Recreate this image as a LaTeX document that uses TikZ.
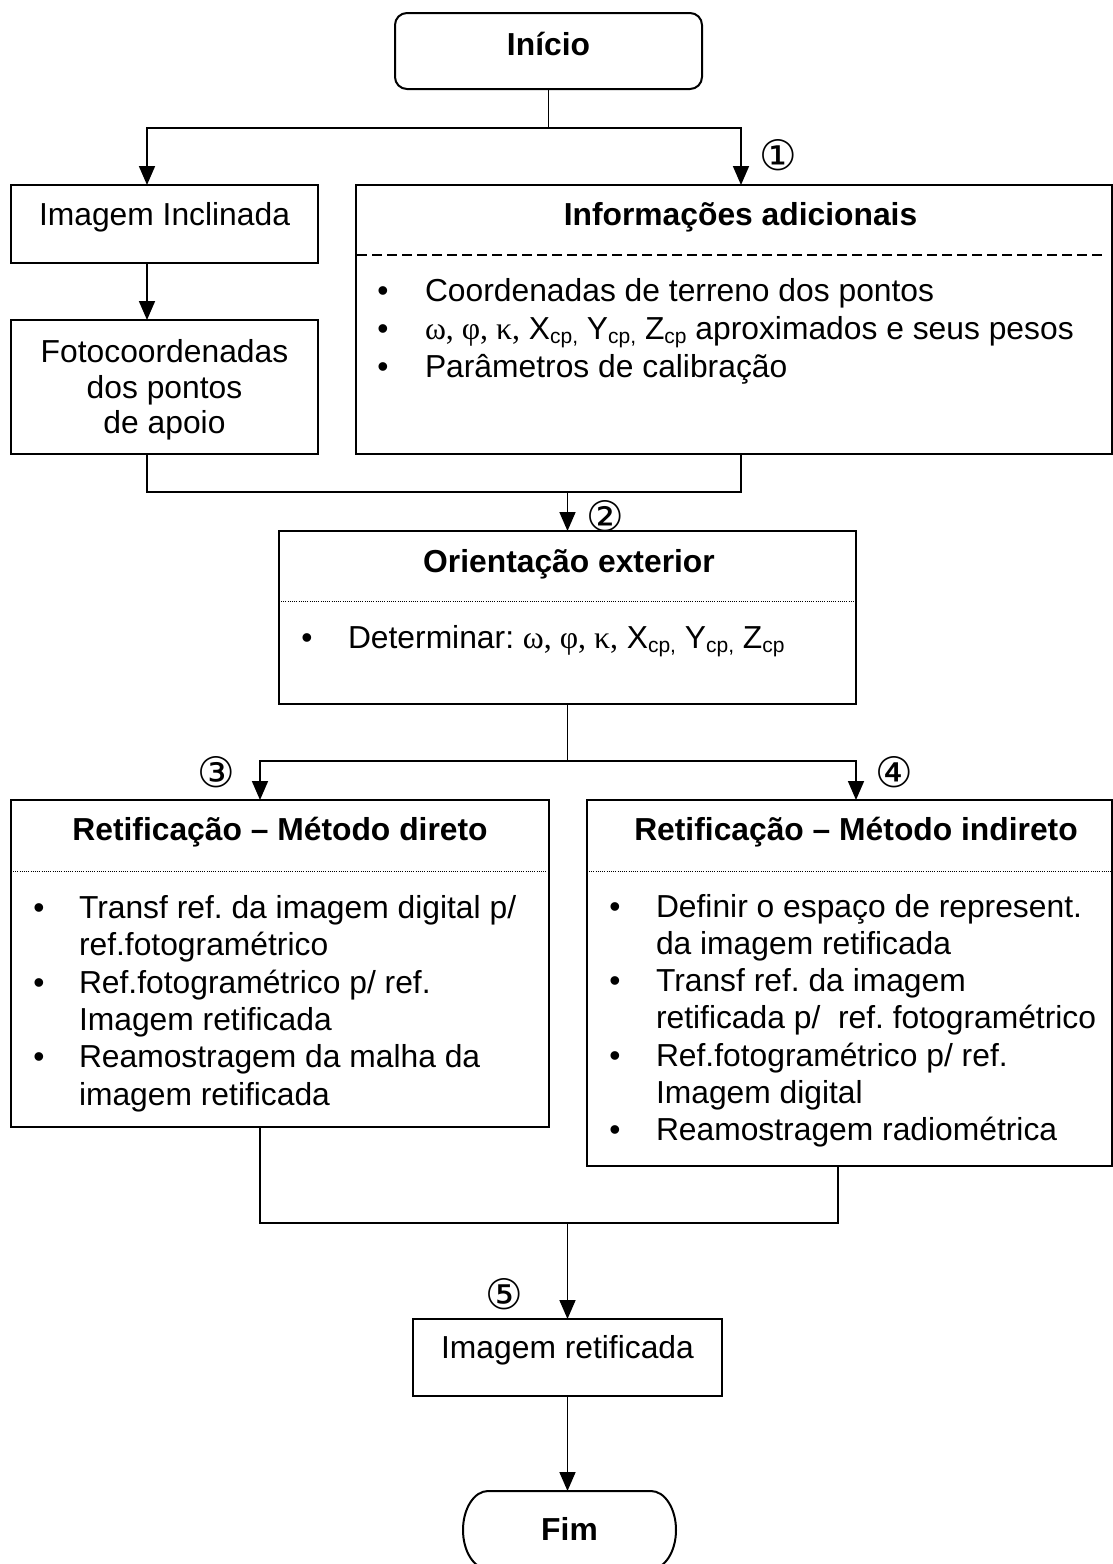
\documentclass[tikz,border=0pt]{standalone}
\usepackage{fontspec}
\setmainfont{Liberation Sans}
\newfontfamily\grkfont{Liberation Serif}
\newfontfamily\circfont{DejaVu Sans}
\usetikzlibrary{arrows.meta}
\newcommand\sbx[1]{\raisebox{-4.5pt}{\fontsize{21pt}{21pt}\selectfont #1}}
\newcommand\gk[1]{{\grkfont #1}}
\frenchspacing
\tikzset{
  txt/.style={font=\fontsize{31.8pt}{37.3pt}\selectfont, inner sep=0pt, outer sep=0pt},
  ttl/.style={txt, font=\fontsize{31.8pt}{37.3pt}\selectfont\bfseries, anchor=base},
  line/.style={txt, anchor=base west},
  bul/.style={txt, anchor=base},
  num/.style={inner sep=0pt, font=\circfont\fontsize{42pt}{42pt}\selectfont},
  box/.style={draw, line width=2pt, anchor=north west, inner sep=0pt, outer sep=0pt},
  conn/.style={line width=1.7pt},
  arr/.style={conn, -{Triangle[length=19pt,width=16pt]}},
  dotline/.style={line width=0.9pt, dash pattern=on 0.9pt off 1.3pt},
  dashline/.style={line width=1.6pt, dash pattern=on 10pt off 5pt}
}
\begin{document}
\begin{tikzpicture}[x=1pt,y=-1pt]
\path[use as bounding box, fill=white] (0,0) rectangle (1113,1564);
\clip (0,0) rectangle (1113,1564);

% boxes
\node[box, rounded corners=12pt, minimum width=307pt, minimum height=76pt] (inicio) at (395,13) {};
\node[box, minimum width=307pt, minimum height=78pt] (imginc) at (11,185) {};
\node[box, minimum width=307pt, minimum height=134pt] (foto) at (11,320) {};
\node[box, minimum width=756pt, minimum height=269pt] (info) at (356,185) {};
\node[box, minimum width=577pt, minimum height=173pt] (orient) at (279,531) {};
\node[box, minimum width=538pt, minimum height=327pt] (retdir) at (11,800) {};
\node[box, minimum width=525pt, minimum height=366pt] (retind) at (587,800) {};
\node[box, minimum width=309pt, minimum height=77pt] (imgret) at (413,1319) {};
\draw[line width=2pt] (488,1491) -- (651,1491)
  .. controls (664.8,1491) and (676,1508.5) .. (676,1530)
  .. controls (676,1551.5) and (664.8,1569) .. (651,1569)
  -- (488,1569)
  .. controls (474.2,1569) and (463,1551.5) .. (463,1530)
  .. controls (463,1508.5) and (474.2,1491) .. (488,1491) -- cycle;

% titles and texts
\node[ttl] (tinicio) at (548.5,55) {Início};
\node[txt, anchor=base] (timginc) at (164.5,225) {Imagem Inclinada};
\node[txt, anchor=base] (tfoto1) at (164.5,362) {Fotocoordenadas};
\node[txt, anchor=base] (tfoto2) at (164.5,398) {dos pontos};
\node[txt, anchor=base] (tfoto3) at (164.5,433) {de apoio};

\node[ttl] (tinfo) at (740.5,225) {Informações adicionais};
\draw[dashline] (357,255) -- (1106,255);
\node[bul] (bi1) at (383,301) {•};
\node[bul] (bi2) at (383,339) {•};
\node[bul] (bi3) at (383,377) {•};
\node[line] (li1) at (425,301) {Coordenadas de terreno dos pontos};
\node[line] (li2) at (425,339) {\gk{ω, φ, κ,} X\sbx{cp,} Y\sbx{cp,} Z\sbx{cp} aproximados e seus pesos};
\node[line] (li3) at (425,377) {Parâmetros de calibração};

\node[ttl] (torient) at (569,572) {Orientação exterior};
\draw[dotline] (281,601) -- (854,601);
\node[bul] (bo1) at (307,648) {•};
\node[line] (lo1) at (348,648) {Determinar: \gk{ω, φ, κ,} X\sbx{cp,} Y\sbx{cp,} Z\sbx{cp}};

\node[ttl] (tretdir) at (280,840) {Retificação – Método direto};
\draw[dotline] (13,871) -- (547,871);
\node[bul] (bd1) at (39,918.5) {•};
\node[bul] (bd2) at (39,993.1) {•};
\node[bul] (bd3) at (39,1067.7) {•};
\node[line] (ld1) at (79,918.5) {Transf ref. da imagem digital p/};
\node[line] (ld2) at (79,955.8) {ref.fotogramétrico};
\node[line] (ld3) at (79,993.1) {Ref.fotogramétrico p/ ref.};
\node[line] (ld4) at (79,1030.4) {Imagem retificada};
\node[line] (ld5) at (79,1067.7) {Reamostragem da malha da};
\node[line] (ld6) at (79,1105) {imagem retificada};

\node[ttl] (tretind) at (856,840) {Retificação – Método indireto};
\draw[dotline] (589,871) -- (1113,871);
\node[bul] (bn1) at (615,917) {•};
\node[bul] (bn2) at (615,991.6) {•};
\node[bul] (bn3) at (615,1066.2) {•};
\node[bul] (bn4) at (615,1140.8) {•};
\node[line] (ln1) at (656,917) {Definir o espaço de represent.};
\node[line] (ln2) at (656,954.3) {da imagem retificada};
\node[line] (ln3) at (656,991.6) {Transf ref. da imagem};
\node[line] (ln4) at (656,1028.9) {retificada p/\ \ ref. fotogramétrico};
\node[line] (ln5) at (656,1066.2) {Ref.fotogramétrico p/ ref.};
\node[line] (ln6) at (656,1103.5) {Imagem digital};
\node[line] (ln7) at (656,1140.8) {Reamostragem radiométrica};

\node[txt, anchor=base] (timgret) at (567.5,1358) {Imagem retificada};
\node[ttl] (fim) at (569.5,1540) {Fim};

% circled numbers
\node[num] (n1) at (778,155) {①};
\node[num] (n2) at (605,516) {②};
\node[num] (n3) at (216,772) {③};
\node[num] (n4) at (894,772) {④};
\node[num] (n5) at (504,1294) {⑤};

% junction coordinates
\coordinate (j1) at (548.5,128);
\coordinate (a1) at (147,185);
\coordinate (a2) at (741,185);
\coordinate (b1) at (147,263);
\coordinate (b2) at (147,320);
\coordinate (c1) at (147,454);
\coordinate (c2) at (741,454);
\coordinate (j2) at (567.5,492);
\coordinate (j3) at (567.5,761);
\coordinate (d1) at (260,800);
\coordinate (d2) at (856,800);
\coordinate (e1) at (260,1127);
\coordinate (e2) at (838,1166);
\coordinate (j4) at (567.5,1223);
\coordinate (fimtop) at (567.5,1491);

% connectors
\draw[conn] (inicio.south) -- (j1);
\draw[arr] (j1) -| (a1);
\draw[arr] (j1) -| (a2);
\draw[arr] (b1) -- (b2);
\draw[conn] (c1) |- (j2) -| (c2);
\draw[arr] (j2) -- (orient.north);
\draw[conn] (orient.south) -- (j3);
\draw[arr] (j3) -| (d1);
\draw[arr] (j3) -| (d2);
\draw[conn] (e1) |- (j4) -| (e2);
\draw[arr] (j4) -- (imgret.north);
\draw[arr] (imgret.south) -- (fimtop);
\end{tikzpicture}
\end{document}
